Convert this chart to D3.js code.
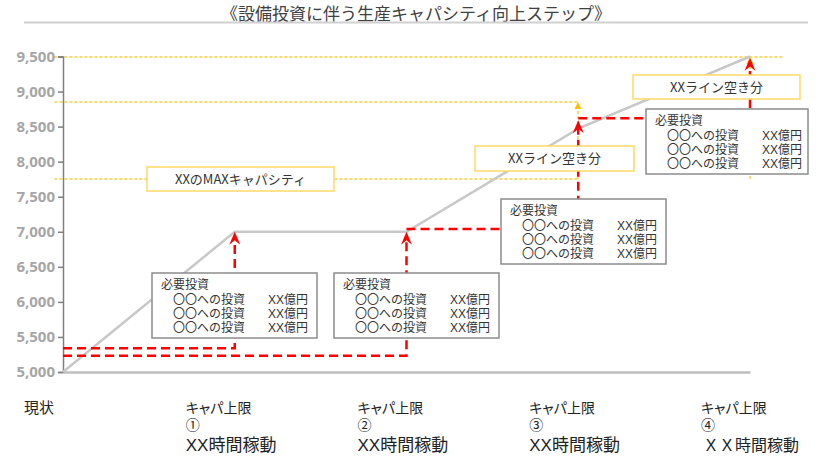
<!doctype html>
<html>
<head>
<meta charset="utf-8">
<style>
  body { margin: 0; background: #fff; }
  svg { display: block; font-family: "Noto Sans CJK JP", "Noto Sans", sans-serif; }
  .yaxis text { font-family: "Noto Sans", sans-serif; font-weight: bold; font-size: 15px; fill: #a6a6a6; }
  .yaxis path, .yaxis line { stroke: #7f7f7f; stroke-width: 1.5; }
  .xaxis path { stroke: #bfbfbf; stroke-width: 2.5; }
  .ref { stroke: #ffd966; stroke-width: 2; stroke-dasharray: 3,2; fill: none; }
  .step { stroke: #ff0000; stroke-width: 2.5; stroke-dasharray: 9,5; fill: none; }
  .ybox rect { fill: #fff; stroke: #ffd966; stroke-width: 1.5; }
  .ibox rect { fill: #fff; stroke: #8c8c8c; stroke-width: 1.5; }
  .tight { font-family: "Liberation Sans", "Noto Sans CJK JP", sans-serif; }
</style>
</head>
<body>
<svg id="chart" width="819" height="457"></svg>
<script src="https://d3js.org/d3.v7.min.js"></script>
<script>
// data
var categories = ["現状", "キャパ上限①", "キャパ上限②", "キャパ上限③", "キャパ上限④"];
var catLine1 = ["現状", "キャパ上限", "キャパ上限", "キャパ上限", "キャパ上限"];
var catLine2 = ["", "①", "②", "③", "④"];
var catLine3 = ["", "XX時間稼動", "XX時間稼動", "XX時間稼動", "ＸＸ時間稼動"];
var capacity = [5000, 7000, 7000, 8470, 9500];
var yTicks = [5000, 5500, 6000, 6500, 7000, 7500, 8000, 8500, 9000, 9500];

// red dashed steps (from category -> to category, base value, arrow tip value)
var stepFrom = [0, 0, 2, 3];
var stepTo = [1, 2, 3, 4];
var stepBase = [5340, 5230, 7040, 8620];
var stepTop = [7000, 7000, 8590, 9480];

// yellow reference levels
var refValues = [9500, 8850, 7750];
var refLabels = ["XXのMAXキャパシティ", "XXライン空き分", "XXライン空き分"];
var investItems = ["〇〇への投資", "〇〇への投資", "〇〇への投資"];
var investAmounts = ["XX億円", "XX億円", "XX億円"];

var svg = d3.select("#chart");

var x = d3.scalePoint().domain(categories).range([63, 750]);
var xi = d3.scaleLinear().domain([0, 4]).range([63, 750]);
var y = d3.scaleLinear().domain([5000, 9500]).range([372, 56.5]);
function yr(v) { return Math.round(y(v)); }

// title
svg.append("text")
  .attr("x", 416).attr("y", 20)
  .attr("text-anchor", "middle")
  .attr("font-size", 17).attr("fill", "#404040")
  .text("《設備投資に伴う生産キャパシティ向上ステップ》");
svg.append("line")
  .attr("x1", 24).attr("x2", 808).attr("y1", 22.5).attr("y2", 22.5)
  .attr("stroke", "#d0d0d0").attr("stroke-width", 2);

// yellow dotted reference lines
svg.append("line").attr("class", "ref")
  .attr("x1", xi(-0.05)).attr("x2", xi(4.2))
  .attr("y1", yr(refValues[0])).attr("y2", yr(refValues[0]));
svg.append("line").attr("class", "ref")
  .attr("x1", xi(-0.05)).attr("x2", x(categories[3]))
  .attr("y1", yr(refValues[1])).attr("y2", yr(refValues[1]));
svg.append("line").attr("class", "ref")
  .attr("x1", xi(-0.05)).attr("x2", x(categories[3]))
  .attr("y1", yr(refValues[2])).attr("y2", yr(refValues[2]));

// yellow vertical arrows
[[3, refValues[2], refValues[1]], [4, refValues[2], refValues[0]]].forEach(function(a) {
  var cx = Math.round(x(categories[a[0]]));
  svg.append("line").attr("class", "ref")
    .attr("x1", cx).attr("x2", cx)
    .attr("y1", yr(a[1])).attr("y2", yr(a[2]) + 5);
  svg.append("path")
    .attr("transform", "translate(" + cx + "," + yr(a[2]) + ")")
    .attr("d", "M0,0L3.5,7L-3.5,7Z")
    .attr("fill", "#ffc000");
});

// axes
svg.append("g").attr("class", "xaxis")
  .attr("transform", "translate(0," + y(5000) + ")")
  .call(d3.axisBottom(x).tickValues([]).tickSizeOuter(0));

svg.append("g").attr("class", "yaxis")
  .attr("transform", "translate(63,0)")
  .call(d3.axisLeft(y).tickValues(yTicks).tickSize(5).tickSizeOuter(5).tickPadding(3).tickFormat(d3.format(",")));

// capacity line
svg.append("path")
  .datum(capacity)
  .attr("d", d3.line().x(function(d, i) { return x(categories[i]); }).y(function(d) { return y(d); }))
  .attr("fill", "none").attr("stroke", "#c8c8c8").attr("stroke-width", 2.5);

// red steps
stepFrom.forEach(function(f, i) {
  var x0 = x(categories[f]), x1 = x(categories[stepTo[i]]);
  var tip = y(stepTop[i]);
  svg.append("path").attr("class", "step")
    .attr("d", "M" + x0 + "," + y(stepBase[i]) + "H" + x1 + "V" + (tip + 8));
  svg.append("path")
    .attr("transform", "translate(" + x1 + "," + tip + ")")
    .attr("d", "M0,0L5.5,13L0,8.5L-5.5,13Z")
    .attr("fill", "#ff0000");
});

// yellow label boxes
var yBoxes = [
  {cx: 240.5, cy: yr(refValues[2]), w: 187, h: 24},
  {cx: 554.5, cy: 158.5, w: 159, h: 25},
  {cx: 716.5, cy: 87, w: 167, h: 24}
];
yBoxes.forEach(function(b, i) {
  var g = svg.append("g").attr("class", "ybox");
  g.append("rect").attr("x", b.cx - b.w / 2).attr("y", b.cy - b.h / 2)
    .attr("width", b.w).attr("height", b.h);
  g.append("text").attr("x", b.cx).attr("y", b.cy + 4.5)
    .attr("text-anchor", "middle").attr("font-size", 13).attr("fill", "#333")
    .text(refLabels[i]);
});

// investment boxes
var iBoxes = [
  {x: 152, y: 273, w: 165},
  {x: 334, y: 273, w: 165},
  {x: 501, y: 199, w: 165},
  {x: 646, y: 109, w: 162}
];
iBoxes.forEach(function(b) {
  var g = svg.append("g").attr("class", "ibox tight").attr("transform", "translate(" + b.x + "," + b.y + ")");
  g.append("rect").attr("width", b.w).attr("height", 65);
  g.append("text").attr("x", 9).attr("y", 16).attr("font-size", 12).attr("fill", "#333").text("必要投資");
  investItems.forEach(function(t, j) {
    g.append("text").attr("x", 21).attr("y", 30.5 + j * 14).attr("font-size", 12).attr("fill", "#333").text(t);
    g.append("text").attr("x", 116).attr("y", 30.5 + j * 14).attr("font-size", 12).attr("fill", "#333").text(investAmounts[j]);
  });
});

// category labels
categories.forEach(function(c, i) {
  var lx = i === 0 ? x(c) - 39 : x(c) - 49;
  var g = svg.append("g").attr("class", "tight").attr("fill", "#222");
  g.append("text").attr("x", lx).attr("y", 413).attr("font-size", i === 0 ? 15 : 14)
    .style("font-feature-settings", "'palt'")
    .text(catLine1[i]);
  g.append("text").attr("x", lx).attr("y", 430).attr("font-size", 14).text(catLine2[i]);
  if (catLine3[i]) {
    g.append("text").attr("x", lx + (i === 4 ? 2 : 0)).attr("y", 451).attr("font-size", i === 4 ? 16 : 17)
      .text(catLine3[i]);
  }
});
</script>
</body>
</html>
